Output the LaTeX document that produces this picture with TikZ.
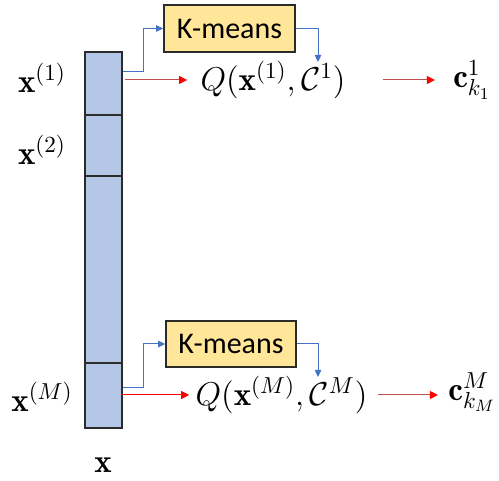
\RequirePackage{fix-cm}
\documentclass[tikz,border=0pt]{standalone}
\usepackage{fontspec}
\newfontfamily\kmfont{Carlito}
\usetikzlibrary{arrows.meta,calc}
\definecolor{barfill}{HTML}{B4C7E7}
\definecolor{boxfill}{HTML}{FFE699}
\definecolor{bluearr}{HTML}{4472C4}
\definecolor{redarr}{HTML}{FF0000}
\definecolor{redline}{HTML}{C0504D}
\definecolor{edge}{HTML}{2B2B2B}
\tikzset{
  seg/.style={draw=edge, line width=0.8pt, fill=barfill, minimum width=18.5pt, inner sep=0pt},
  kmbox/.style={draw=edge, line width=0.8pt, fill=boxfill, inner sep=0pt, font=\kmfont\fontsize{15}{18}\selectfont},
  mathlbl/.style={inner sep=0pt, font=\fontsize{16.5}{20}\selectfont},
  bluearrow/.style={draw=bluearr, line width=0.5pt, -{Triangle[length=3.5pt,width=3.2pt]}},
  redarrow/.style={draw=redarr, line width=0.5pt, -{Triangle[length=4pt,width=4pt]}},
  redarrowsoft/.style={draw=redline, line width=0.5pt, -{Triangle[length=4pt,width=4pt,color=redarr]}}
}
\begin{document}
\begin{tikzpicture}[x=0.5pt,y=-0.5pt]
\useasboundingbox (0,0) rectangle (499,481);
% bar
\node[seg, minimum height=31.5pt] (s1) at (103.5,83.5) {};
\node[seg, minimum height=30.5pt] (s2) at (103.5,145.5) {};
\node[seg, minimum height=93.5pt] (s3) at (103.5,269.5) {};
\node[seg, minimum height=32.5pt] (s4) at (103.5,395.5) {};
% labels
\node[mathlbl] (l1) at (42,78) {$\mathbf{x}^{(1)}$};
\node[mathlbl] (l2) at (42,150) {$\mathbf{x}^{(2)}$};
\node[mathlbl] (lM) at (42,397) {$\mathbf{x}^{(M)}$};
\node[mathlbl] (lx) at (103,465) {$\mathbf{x}$};
% k-means boxes
\node[kmbox, minimum width=65.5pt, minimum height=23.5pt] (k1) at (229.5,28.5) {K-means};
\node[kmbox, minimum width=65pt, minimum height=23pt] (k2) at (231,344) {K-means};
% Q expressions
\node[mathlbl] (q1) at (273,80) {$Q(\mathbf{x}^{(1)},\mathcal{C}^{1})$};
\node[mathlbl] (q2) at (281.5,395) {$Q(\mathbf{x}^{(M)},\mathcal{C}^{M})$};
% outputs
\node[mathlbl] (c1) at (472,80) {$\mathbf{c}^{1}_{k_1}$};
\node[mathlbl] (c2) at (472,392) {$\mathbf{c}^{M}_{k_M}$};
\coordinate (t1) at (318,62);
\coordinate (t2) at (318,377);
% top row connectors
\draw[bluearrow] ([yshift=5.75pt]s1.east) -- ++(21,0) |- (k1.west);
\draw[bluearrow] (k1.east) -| (t1);
\draw[redarrowsoft, shorten <=1pt, shorten >=6.5pt] (s1.east |- q1.west) -- (q1.west);
\draw[redarrowsoft, shorten <=18.5pt, shorten >=9pt] (q1.east) -- (q1.east -| c1.west);
% bottom row connectors
\draw[bluearrow] ([yshift=3.75pt]s4.east) -- ++(21,0) |- (k2.west);
\draw[bluearrow] (k2.east) -| (t2);
\draw[redarrow, shorten <=-1pt, shorten >=3pt] (s4.east |- q2.west) -- (q2.west);
\draw[redarrowsoft, shorten <=5pt, shorten >=5pt] (q2.east) -- (q2.east -| c2.west);
\end{tikzpicture}
\end{document}
